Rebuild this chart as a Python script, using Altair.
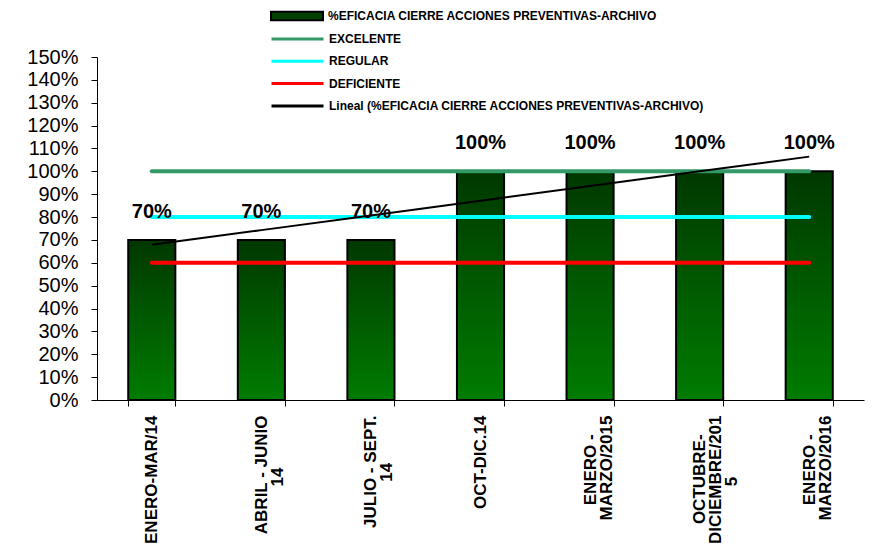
import altair as alt
import numpy as np
import pandas as pd

# Periodos evaluados (los saltos de línea parten las etiquetas del eje)
categorias = [
    "ENERO-MAR/14",
    "ABRIL - JUNIO\n14",
    "JULIO - SEPT.\n14",
    "OCT-DIC.14",
    "ENERO -\nMARZO/2015",
    "OCTUBRE-\nDICIEMBRE/201\n5",
    "ENERO -\nMARZO/2016",
]
# % de eficacia en el cierre de acciones preventivas
eficacia = [0.70, 0.70, 0.70, 1.00, 1.00, 1.00, 1.00]

# Umbrales de calificación
umbral_nombres = ["EXCELENTE", "REGULAR", "DEFICIENTE"]
umbral_valores = [1.00, 0.80, 0.60]
umbral_colores = ["#339966", "#00FFFF", "#FF0000"]

ticks_y = [i / 10 for i in range(16)]

SERIE = "%EFICACIA CIERRE ACCIONES PREVENTIVAS-ARCHIVO"
TENDENCIA = "Lineal (%EFICACIA CIERRE ACCIONES PREVENTIVAS-ARCHIVO)"
FUENTE = "Liberation Sans"

# Anchos (em/1000) de Arial Bold, para centrar las líneas de cada etiqueta
ANCHOS = {c: 722 for c in "ABCDHKNRUX"}
ANCHOS.update({c: 667 for c in "EPSVY"})
ANCHOS.update({c: 611 for c in "FLTZ"})
ANCHOS.update({c: 778 for c in "GOQ"})
ANCHOS.update({"I": 278, "J": 556, "M": 833, "W": 944})
ANCHOS.update({c: 556 for c in "0123456789"})
ANCHOS.update({" ": 278, "-": 333, ".": 278, "/": 278})
RELLENO = "\u00a0"
ANCHO_RELLENO = 278
CIERRE = "\u200b"  # evita que el relleno final se recorte


def centrar_lineas(etiqueta):
    """Rellena las líneas cortas para que queden centradas al alinear a la derecha."""
    lineas = etiqueta.split("\n")
    anchos = [sum(ANCHOS.get(c, 600) for c in l) for l in lineas]
    maximo = max(anchos)
    salida = []
    for l, a in zip(lineas, anchos):
        n = round((maximo - a) / 2 / ANCHO_RELLENO)
        salida.append(l + RELLENO * n + CIERRE if n else l)
    return "\n".join(salida)


etiquetas_eje = [centrar_lineas(c) for c in categorias]

df = pd.DataFrame({"categoria": etiquetas_eje, "valor": eficacia, "serie": SERIE})

df_umbral = pd.DataFrame(
    [
        {"categoria": c, "valor": v, "serie": n}
        for n, v in zip(umbral_nombres, umbral_valores)
        for c in etiquetas_eje
    ]
)

# Línea de tendencia lineal (mínimos cuadrados sobre la serie)
idx = np.arange(1, len(eficacia) + 1)
pendiente, corte = np.polyfit(idx, eficacia, 1)
df_tend = pd.DataFrame(
    {"categoria": etiquetas_eje, "valor": pendiente * idx + corte, "serie": TENDENCIA}
)

x_enc = alt.X(
    "categoria:N",
    sort=etiquetas_eje,
    scale=alt.Scale(paddingInner=0.57, paddingOuter=0.285),
    axis=alt.Axis(
        title=None,
        labelExpr="split(datum.label, '\\n')",
        labelAngle=270,
        labelAlign="right",
        labelBaseline="middle",
        labelFont=FUENTE,
        labelFontWeight="bold",
        labelFontSize=17,
        labelLineHeight=16,
        labelPadding=9,
        labelLimit=300,
        labelColor="black",
        tickBand="extent",
        tickSize=6,
        tickColor="black",
        domainColor="black",
        labelOverlap=False,
    ),
)

y_enc = alt.Y(
    "valor:Q",
    scale=alt.Scale(domain=[0, 1.5], nice=False),
    axis=alt.Axis(
        title=None,
        values=ticks_y,
        format=".0%",
        grid=False,
        labelFont=FUENTE,
        labelFontSize=20,
        labelColor="black",
        labelPadding=13,
        tickSize=6,
        tickColor="black",
        domainColor="black",
    ),
)

degradado = {
    "gradient": "linear",
    "x1": 0, "y1": 0, "x2": 0, "y2": 1,
    "stops": [
        {"offset": 0, "color": "#003800"},
        {"offset": 1, "color": "#007C00"},
    ],
}

estilo_leyenda = dict(
    title=None,
    orient="none",
    legendX=173,
    symbolSize=2704,
    clipHeight=16,
    labelFont=FUENTE,
    labelFontWeight="bold",
    labelFontSize=12,
    labelColor="black",
    labelOffset=4,
    labelLimit=600,
    padding=0,
)

barras = alt.Chart(df).mark_bar(stroke="black", strokeWidth=2).encode(
    x=x_enc,
    y=y_enc,
    fill=alt.Fill(
        "serie:N",
        scale=alt.Scale(domain=[SERIE], range=["#004000"]),
        condition={"test": "true", "value": degradado},
        legend=alt.Legend(
            legendY=-49,
            symbolType="M-1,-0.16L1,-0.16L1,0.16L-1,0.16Z",
            symbolStrokeColor="black",
            symbolStrokeWidth=2,
            symbolOpacity=1,
            **estilo_leyenda,
        ),
    ),
)

stroke_scale = alt.Scale(
    domain=umbral_nombres + [TENDENCIA], range=umbral_colores + ["#000000"]
)

lineas = alt.Chart(df_umbral).mark_line(strokeWidth=4, strokeCap="round").encode(
    x=x_enc,
    y=y_enc,
    stroke=alt.Stroke(
        "serie:N",
        scale=stroke_scale,
        legend=alt.Legend(
            legendY=-26,
            symbolType="stroke",
            symbolStrokeWidth=3,
            rowPadding=6.3,
            **estilo_leyenda,
        ),
    ),
)

tendencia = alt.Chart(df_tend).mark_line(strokeWidth=2).encode(
    x=x_enc,
    y=y_enc,
    stroke=alt.Stroke("serie:N", scale=stroke_scale),
)

etiquetas = alt.Chart(df).mark_text(
    font=FUENTE, fontSize=20, fontWeight="bold", baseline="bottom", dy=-18, color="black"
).encode(
    x=x_enc,
    y=y_enc,
    text=alt.Text("valor:Q", format=".0%"),
)

chart = (
    alt.layer(barras, lineas, tendencia, etiquetas)
    .properties(
        width=767,
        height=343,
        autosize=alt.AutoSizeParams(type="none"),
        padding={"left": 97, "top": 57, "right": 14, "bottom": 154},
        background="white",
    )
    .configure_view(stroke=None)
)

chart.save("out.html", embed_options={"renderer": "svg", "actions": False})
